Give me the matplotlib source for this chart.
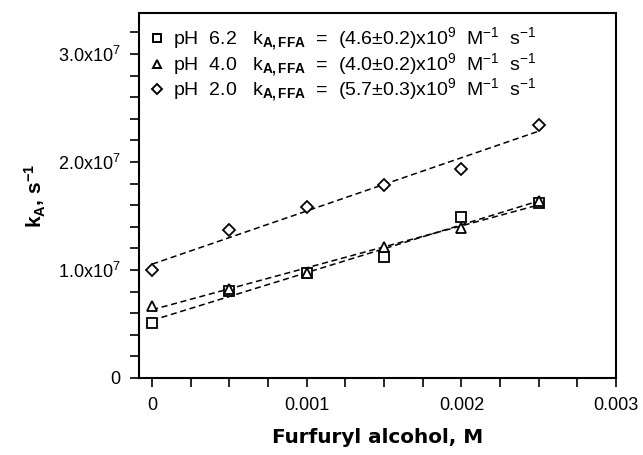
import matplotlib
matplotlib.use("Agg")
import matplotlib.pyplot as plt
import numpy as np
from matplotlib.lines import Line2D
from matplotlib.ticker import MultipleLocator, FixedLocator

plt.rcParams['font.family'] = ['Liberation Sans', 'DejaVu Sans']
plt.rcParams['mathtext.fontset'] = 'custom'
plt.rcParams['mathtext.rm'] = 'Liberation Sans'
plt.rcParams['mathtext.it'] = 'Liberation Sans'
plt.rcParams['mathtext.bf'] = 'Liberation Sans:bold'

# Data
ffa = [0.0, 0.0005, 0.0010, 0.0015, 0.0020, 0.0025]
k_ph62 = [0.51e7, 0.81e7, 0.97e7, 1.12e7, 1.49e7, 1.62e7]
k_ph40 = [0.67e7, 0.82e7, 0.975e7, 1.21e7, 1.39e7, 1.64e7]
k_ph20 = [1.00e7, 1.37e7, 1.58e7, 1.79e7, 1.94e7, 2.34e7]
labels = [r"pH  6.2   k$_{\mathbf{A,FFA}}$  =  (4.6$\pm$0.2)x10$^{9}$  M$^{-1}$  s$^{-1}$",
          r"pH  4.0   k$_{\mathbf{A,FFA}}$  =  (4.0$\pm$0.2)x10$^{9}$  M$^{-1}$  s$^{-1}$",
          r"pH  2.0   k$_{\mathbf{A,FFA}}$  =  (5.7$\pm$0.3)x10$^{9}$  M$^{-1}$  s$^{-1}$"]
markers = ['s', '^', 'D']
msizes = [7, 7, 6.5]
series = [k_ph62, k_ph40, k_ph20]
xticks = [0, 0.001, 0.002, 0.003]
xticklabels = ["0", "0.001", "0.002", "0.003"]
yticks = [0, 1e7, 2e7, 3e7]
yticklabels = ["0", r"1.0x10$^{7}$", r"2.0x10$^{7}$", r"3.0x10$^{7}$"]

fig = plt.figure(figsize=(6.43, 4.55), dpi=100)
ax = fig.add_axes([139/643, 1 - 378/455, (616-139)/643, (378-13)/455])

x = np.array(ffa)
handles = []
for ys, m, ms in zip(series, markers, msizes):
    ys = np.array(ys)
    p = np.polyfit(x, ys, 1)
    ax.plot(x, np.polyval(p, x), linestyle=(0, (4, 2.4)), color='black', lw=1.1, zorder=2)
    ax.plot(x, ys, linestyle='none', marker=m, ms=ms, mfc='white', mec='black', mew=1.3, zorder=3)
    handles.append(Line2D([], [], linestyle='none', marker=m, ms=ms-1.5, mfc='white', mec='black', mew=1.4))

ax.set_xlim(-0.000085, 0.003)
ax.set_ylim(0, 3.38e7)
ax.xaxis.set_major_locator(FixedLocator(xticks))
ax.set_xticklabels(xticklabels)
ax.xaxis.set_minor_locator(MultipleLocator(0.00025))
ax.yaxis.set_major_locator(FixedLocator(yticks))
ax.set_yticklabels(yticklabels)
ax.yaxis.set_minor_locator(MultipleLocator(0.2e7))
ax.tick_params(which='both', direction='out', length=6.5, width=1.2, labelsize=13)
ax.tick_params(axis='x', pad=7)
ax.tick_params(axis='y', pad=7)
for s in ax.spines.values():
    s.set_linewidth(1.5)

ax.set_xlabel("Furfuryl alcohol, M", fontsize=14.4, fontweight='bold', labelpad=10,
              family='DejaVu Sans')
ax.set_ylabel(r"k$_\mathbf{A}$, s$^{\mathbf{-1}}$", fontsize=15, fontweight='bold', labelpad=7)

leg = ax.legend(handles, labels, loc='upper left', frameon=False, fontsize=14,
                handlelength=0.5, handletextpad=0.6, labelspacing=-0.12,
                borderaxespad=0.25, borderpad=0.4, bbox_to_anchor=(0.0, 1.0))

fig.savefig("out.png", dpi=100)
